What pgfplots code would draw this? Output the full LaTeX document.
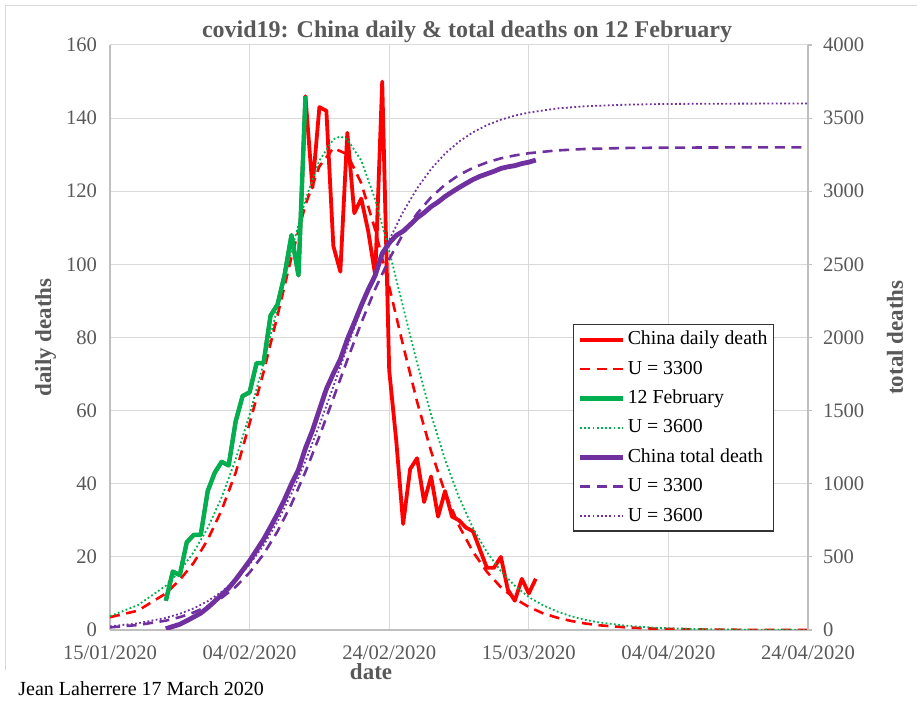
\documentclass[border=0pt]{standalone}
\usepackage{fontspec}
\setmainfont{Liberation Serif}
\usepackage{pgfplots}
\pgfplotsset{compat=1.18}

\definecolor{cred}{HTML}{FF0000}
\definecolor{cgreen}{HTML}{00B050}
\definecolor{cpurple}{HTML}{7030A0}
\definecolor{txtgray}{HTML}{595959}
\definecolor{gridgray}{HTML}{D9D9D9}
\definecolor{axgray}{HTML}{BFBFBF}

\pgfplotsset{
  base/.style={
    scale only axis, width=349pt, height=292.5pt,
    xmin=0, xmax=100, no markers,
    /pgf/number format/assume math mode=true,
    /pgf/number format/1000 sep={},
    tick label style={font=\fontsize{10.3}{12}\selectfont, text=txtgray},
    label style={font=\fontsize{11.5}{13}\selectfont\bfseries, text=txtgray},
    every axis plot/.append style={line join=round},
  },
  dash33/.style={line width=1.3pt, dash pattern=on 5pt off 3.3pt},
  dot36/.style={line width=0.9pt, dash pattern=on 0.9pt off 1.2pt},
}

\begin{document}
\begin{tikzpicture}
\useasboundingbox (-55pt,-36pt) rectangle (403.5pt,315pt);
\draw[gridgray, line width=0.5pt] (-52pt,-20pt) -- (-52pt,312pt) -- (403.5pt,312pt);

% daily deaths, left axis
\begin{axis}[base,
  ymin=0, ymax=160, ytick={0,20,...,160},
  xtick={0,20,...,100},
  xticklabels={15/01/2020,04/02/2020,24/02/2020,15/03/2020,04/04/2020,24/04/2020},
  xticklabel style={yshift=-4.5pt},
  yticklabel style={xshift=-3pt},
  axis x line*=bottom, axis y line*=left,
  axis line style={axgray, line width=0.6pt},
  grid=major, major grid style={gridgray, line width=0.5pt},
  major tick length=0pt,
  title={covid19: China daily \& total deaths on 12 February},
  title style={at={(axis description cs:0.5115,1)}, anchor=base, yshift=-2.5pt,
    font=\fontsize{12}{14}\selectfont\bfseries, text=txtgray},
  xlabel={date}, xlabel style={at={(axis description cs:0.374,-0.0718)}, anchor=center},
  ylabel={daily deaths}, ylabel style={at={(axis description cs:-0.0923,0.5)}, anchor=center},
]
% China daily death
\addplot[cred, line width=1.9pt] coordinates {
(8,8) (9,16) (10,15) (11,24) (12,26) (13,26) (14,38) (15,43) (16,46) (17,45)
(18,57) (19,64) (20,65) (21,73) (22,73) (23,86) (24,89) (25,97) (26,108) (27,97)
(28,146) (29,121) (30,143) (31,142) (32,105) (33,98) (34,136) (35,114) (36,118) (37,109)
(38,97) (39,150) (40,71) (41,52) (42,29) (43,44) (44,47) (45,35) (46,42) (47,31)
(48,38) (49,31) (50,30) (51,28) (52,27) (53,22) (54,17) (55,17) (56,20) (57,11)
(58,8) (59,14) (60,10) (61,14)
};
% U = 3300 daily
\addplot[cred, dash33] coordinates {
(0,3.5) (4,5.3) (8,10.0) (10,13.7) (12,18.4) (14,24.7) (16,32.8) (18,43.0) (20,56.5)
(22,70.5) (24,86) (26,102) (28,116.3) (30,126.8) (32,131.8) (34,130.1) (36,122.2)
(38,109.4) (40,93.9) (42,77.8) (44,62.4) (46,48.9) (48,37.6) (50,28.5) (52,21.4)
(54,15.9) (56,11.7) (58,8.6) (60,6.3) (62,4.6) (64,3.4) (66,2.5) (68,1.8) (70,1.3)
(74,0.7) (78,0.36) (84,0.14) (90,0.05) (100,0.02)
};
% 12 February
\addplot[cgreen, line width=2.2pt] coordinates {
(8,8) (9,16) (10,15) (11,24) (12,26) (13,26) (14,38) (15,43) (16,46) (17,45)
(18,57) (19,64) (20,65) (21,73) (22,73) (23,86) (24,89) (25,97) (26,108) (27,97)
(28,146)
};
% U = 3600 daily
\addplot[cgreen, dot36] coordinates {
(0,3.8) (4,6.8) (8,12.1) (10,16.1) (12,21.3) (14,27.9) (16,36.3) (18,46.6) (20,58.9)
(22,73.0) (24,88.3) (26,103.7) (28,117.7) (30,128.4) (32,134.2) (33,135) (34,134.2)
(36,128.4) (38,117.7) (40,103.7) (42,88.3) (44,73.0) (46,58.9) (48,46.6) (50,36.3)
(52,27.9) (54,21.3) (56,16.1) (58,12.1) (60,9.0) (62,6.8) (64,5.1) (66,3.8) (68,2.8)
(70,2.1) (74,1.15) (78,0.63) (84,0.26) (90,0.1) (100,0.02)
};
\end{axis}

% total deaths, right axis
\begin{axis}[base,
  ymin=0, ymax=4000, ytick={0,500,...,4000},
  axis y line*=right, axis x line=none,
  axis line style={axgray, line width=0.6pt},
  ytick style={axgray, line width=0.6pt},
  yticklabel style={xshift=2pt},
  tick align=outside, major tick length=2pt,
  ylabel={total deaths}, ylabel style={at={(axis description cs:1.1246,0.5)}, anchor=center},
  legend style={at={(axis description cs:0.6633,0.523)}, anchor=north west,
    draw=black!80, line width=0.6pt, fill=white,
    font=\fontsize{9.9}{11}\selectfont, text=black,
    inner xsep=2pt, inner ysep=2pt, row sep=3.7pt,
    nodes={inner sep=1pt, text height=7pt, text depth=2pt}},
  legend cell align=left,
  legend image code/.code={\draw[#1] (0pt,0pt) -- (21.7pt,0pt);},
]
\addlegendimage{cred, line width=1.9pt}
\addlegendentry{China daily death}
\addlegendimage{cred, dash33}
\addlegendentry{U = 3300}
\addlegendimage{cgreen, line width=2.2pt}
\addlegendentry{12 February}
\addlegendimage{cgreen, dot36}
\addlegendentry{U = 3600}
% China total death
\addplot[cpurple, line width=2.4pt] coordinates {
(8,8) (9,24) (10,39) (11,63) (12,89) (13,115) (14,153) (15,196) (16,242) (17,287)
(18,344) (19,408) (20,473) (21,546) (22,619) (23,705) (24,794) (25,891) (26,999) (27,1096)
(28,1242) (29,1363) (30,1506) (31,1648) (32,1753) (33,1851) (34,1987) (35,2101) (36,2219) (37,2328)
(38,2425) (39,2575) (40,2646) (41,2698) (42,2727) (43,2771) (44,2818) (45,2853) (46,2895) (47,2926)
(48,2964) (49,2995) (50,3025) (51,3053) (52,3080) (53,3102) (54,3119) (55,3136) (56,3156) (57,3167)
(58,3175) (59,3189) (60,3199) (61,3213)
};
\addlegendentry{China total death}
% U = 3300 cumulative
\addplot[cpurple, dash33] coordinates {
(0,18) (4,34) (8,64) (10,88) (12,120) (14,163) (16,220) (18,295) (20,393) (22,518)
(24,674) (26,862) (28,1081) (30,1324) (32,1584) (34,1847) (36,2100) (38,2332) (40,2536)
(42,2708) (44,2848) (46,2959) (48,3045) (50,3111) (52,3160) (54,3197) (56,3225) (58,3245)
(60,3260) (64,3279) (68,3289) (74,3296) (80,3298) (90,3300) (100,3300)
};
\addlegendentry{U = 3300}
% U = 3600 cumulative
\addplot[cpurple, dot36] coordinates {
(0,25) (4,46) (8,83) (10,111) (12,148) (14,197) (16,261) (18,343) (20,448) (22,580)
(24,741) (26,933) (28,1155) (30,1402) (32,1665) (34,1935) (36,2198) (38,2445) (40,2667)
(42,2859) (44,3020) (46,3152) (48,3257) (50,3339) (52,3403) (54,3452) (56,3489) (58,3517)
(60,3538) (64,3566) (68,3581) (74,3592) (80,3597) (90,3599) (100,3600)
};
\addlegendentry{U = 3600}
\end{axis}

\node[anchor=base west, inner sep=0pt, font=\fontsize{10}{12}\selectfont] at (-46pt,-33pt) {Jean Laherrere 17 March 2020};
\end{tikzpicture}
\end{document}
